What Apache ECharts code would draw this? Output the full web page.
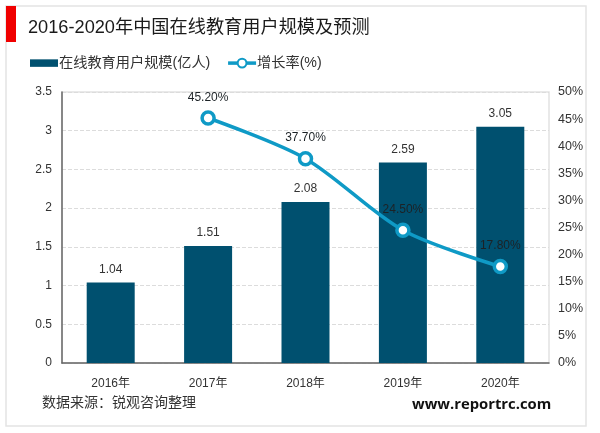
<!DOCTYPE html>
<html>
<head>
<meta charset="utf-8">
<style>
html,body{margin:0;padding:0;background:#fff;}
#chart{width:600px;height:433px;}
</style>
<script src="https://cdn.jsdelivr.net/npm/echarts@6/dist/echarts.min.js"></script>
</head>
<body>
<div id="chart"></div>
<script>
var years = ['2016年','2017年','2018年','2019年','2020年'];
var users = [1.04,1.51,2.08,2.59,3.05];
var growth = [null,45.2,37.7,24.5,17.8];
var font = '"Liberation Sans","Noto Sans CJK SC",sans-serif';

var chart = echarts.init(document.getElementById('chart'));
var option = {
	animation:false,
	textStyle:{fontFamily:font},
	title:[
		{text:'2016-2020年中国在线教育用户规模及预测',left:23,top:14,textStyle:{fontSize:18.2,fontWeight:'normal',color:'#1a1a1a',fontFamily:font}},
		{text:'数据来源：锐观咨询整理',left:37,top:391,textStyle:{fontSize:14,fontWeight:'normal',color:'#333',fontFamily:font}},
		{text:'www.reportrc.com',left:407,top:392,textStyle:{fontSize:14.8,fontWeight:'bold',color:'#111',fontFamily:'"Open Sans",sans-serif'}}
	],
	graphic:[
		{type:'rect',z:-1,shape:{x:6,y:6,width:580,height:420},style:{fill:'#fff',stroke:'#e4e4e4',lineWidth:1.5}},
		{type:'rect',shape:{x:6,y:6,width:10,height:36},style:{fill:'#f00000'}}
	],
	legend:{
		left:25,
		top:51,
		itemGap:16,
		itemWidth:28,
		itemHeight:11,
		textStyle:{fontSize:14.2,color:'#333',fontFamily:font,padding:[0,0,0,-4]},
		lineStyle:{width:3.5},
		data:[
			{name:'在线教育用户规模(亿人)',icon:'path://M0 0H28V7.5H0Z'},
			{name:'增长率(%)'}
		]
	},
	grid:{left:62,right:51,top:92,bottom:70,show:true,borderColor:'#e2e2e2',borderWidth:1.5},
	xAxis:[{
		type:'category',
		data:years,
		axisTick:{show:false},
		axisLine:{lineStyle:{color:'#666',width:1.5}},
		axisLabel:{fontSize:12,color:'#333',margin:15}
	}],
	yAxis:[
		{
			type:'value',
			min:0,
			max:3.5,
			interval:0.5,
			axisLine:{show:true,lineStyle:{color:'#666',width:1.5}},
			axisTick:{show:false},
			axisLabel:{fontSize:12,color:'#333',margin:10},
			splitLine:{lineStyle:{color:'#dcdcdc',type:'dashed'}}
		},
		{
			type:'value',
			min:0,
			max:50,
			interval:5,
			axisLine:{show:false},
			axisTick:{show:false},
			axisLabel:{fontSize:12.5,color:'#333',margin:9,formatter:'{value}%'},
			splitLine:{show:false}
		}
	],
	series:[
		{
			name:'在线教育用户规模(亿人)',
			type:'bar',
			data:users,
			barWidth:48,
			itemStyle:{color:'#00506f'},
			label:{show:true,position:'top',distance:7,fontSize:12,color:'#333'}
		},
		{
			name:'增长率(%)',
			type:'line',
			yAxisIndex:1,
			data:growth,
			smooth:0.3,
			symbol:'circle',
			symbolSize:12,
			lineStyle:{color:'#0f9ac6',width:3.5},
			itemStyle:{color:'#fff',borderColor:'#0f9ac6',borderWidth:3.5},
			label:{show:true,position:'top',distance:7,fontSize:12,color:'#1c2226',formatter:function(p){return p.value.toFixed(2)+'%';}}
		}
	]
};
chart.setOption(option);
</script>
</body>
</html>
